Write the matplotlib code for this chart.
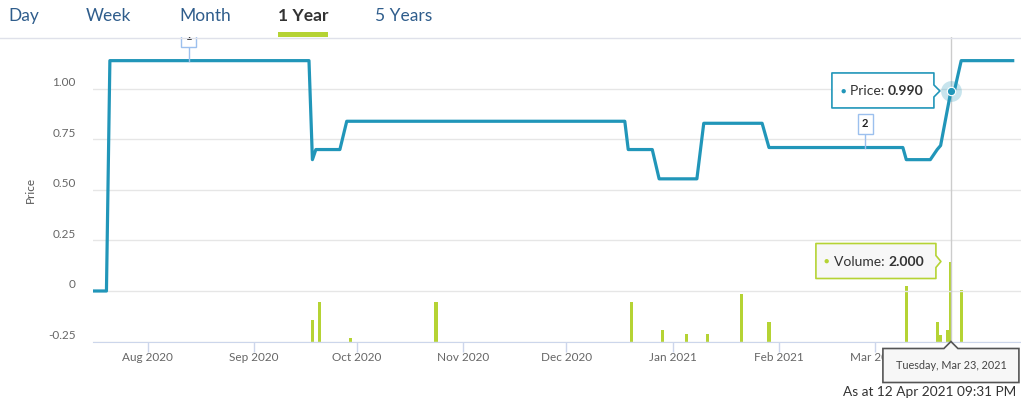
import matplotlib
matplotlib.use('Agg')
import matplotlib.pyplot as plt
import matplotlib.dates as mdates
import matplotlib.transforms as mtransforms
from matplotlib.patches import Polygon, Rectangle
from matplotlib.lines import Line2D
import pandas as pd

plt.rcParams['font.family'] = ['Lato', 'DejaVu Sans']

# ---------------- data ----------------
price_dates = ['2020-07-16', '2020-07-20', '2020-07-21', '2020-09-17', '2020-09-18',
               '2020-09-19', '2020-09-26', '2020-09-28', '2020-12-18', '2020-12-19',
               '2020-12-26', '2020-12-28', '2021-01-08', '2021-01-10', '2021-01-27',
               '2021-01-29', '2021-03-09', '2021-03-10', '2021-03-17', '2021-03-19',
               '2021-03-20', '2021-03-23', '2021-03-24', '2021-03-26', '2021-04-10']
prices = [0.0, 0.0, 1.14, 1.14, 0.65,
          0.70, 0.70, 0.84, 0.84, 0.70,
          0.70, 0.555, 0.555, 0.83, 0.83,
          0.71, 0.71, 0.65, 0.65, 0.70,
          0.72, 0.99, 0.99, 1.14, 1.14]

volume_dates = ['2020-09-18', '2020-09-20', '2020-09-29', '2020-10-24', '2020-12-20',
                '2020-12-29', '2021-01-05', '2021-01-11', '2021-01-21', '2021-01-29',
                '2021-03-10', '2021-03-19', '2021-03-20', '2021-03-22', '2021-03-23',
                '2021-03-26']
volumes = [0.55, 1.0, 0.08, 1.0, 1.0,
           0.3, 0.18, 0.18, 1.2, 0.5,
           1.4, 0.5, 0.17, 0.3, 2.0,
           1.3]

flag_dates = ['2020-08-13', '2021-02-26']
flag_labels = ['1', '2']

tabs = ['Day', 'Week', 'Month', '1 Year', '5 Years']
active_tab = '1 Year'

x_tick_dates = ['2020-08-01', '2020-09-01', '2020-10-01', '2020-11-01', '2020-12-01',
                '2021-01-01', '2021-02-01', '2021-03-01']
y_ticks = [-0.25, 0, 0.25, 0.50, 0.75, 1.00]
y_tick_labels = ['-0.25', '0', '0.25', '0.50', '0.75', '1.00']

hover_date = '2021-03-23'
hover_price = 0.990
hover_volume = 2.000

# ---------------- style ----------------
LINE = '#2196b9'
VOL = '#b5d334'
GRID = '#e6e6e6'
TXT = '#666666'
TAB_BLUE = '#2f5d8c'

W, H = 1021, 400
fig = plt.figure(figsize=(W / 100, H / 100), dpi=100)
fig.patch.set_facecolor('white')

ax_bottom_px, ax_top_px, ax_left_px = 341.5, 37, 93
ax2 = fig.add_axes([ax_left_px / W, (H - ax_bottom_px) / H, (W - ax_left_px) / W,
                    (ax_bottom_px - ax_top_px) / H])
ax = fig.add_axes(ax2.get_position(), sharex=ax2)
ax.set_zorder(ax2.get_zorder() + 1)
ax.patch.set_visible(False)

pdates = pd.to_datetime(price_dates)
vdates = pd.to_datetime(volume_dates)
hdate = pd.Timestamp(hover_date)

# volume bars
ax2.bar(vdates, volumes, width=0.9, color=VOL, align='center', zorder=3)
ax2.set_ylim(0, (ax_bottom_px - ax_top_px) / 40.0)
ax2.axis('off')

# price
ax.set_ylim(-0.25, 1.257)
ax.set_xlim(pd.Timestamp('2020-07-16 02:00'), pd.Timestamp('2021-04-12 10:00'))
for y in y_ticks:
    ax.axhline(y, color=GRID, lw=1, zorder=0)
ax.axvline(hdate, color='#cccccc', lw=1, zorder=1)
ax.plot(pdates, prices, color=LINE, lw=2.3, zorder=4, solid_joinstyle='round')

for s in ax.spines.values():
    s.set_visible(False)
ax.spines['bottom'].set_visible(True)
ax.spines['bottom'].set_color('#ccd6eb')

ax.set_yticks(y_ticks)
ax.set_yticklabels(y_tick_labels)
ax.tick_params(axis='y', length=0, pad=12.5, labelsize=8.5, labelcolor=TXT)
for lab in ax.get_yticklabels():
    lab.set_transform(lab.get_transform() +
                      mtransforms.ScaledTranslation(0, 0.07, fig.dpi_scale_trans))

ax.set_xticks(pd.to_datetime(x_tick_dates))
ax.xaxis.set_major_formatter(mdates.DateFormatter('%b %Y'))
ax.tick_params(axis='x', length=7.2, width=1, color='#ccd6eb', pad=0.5,
               labelsize=8.5, labelcolor=TXT)

fig.text(30 / W, 1 - 190 / H, 'Price', rotation=90, ha='center', va='center',
         fontsize=8.5, color='#555555')

# ---------------- tabs ----------------
tab_x = [8, 86, 179, 278, 375]
for name, x in zip(tabs, tab_x):
    active = name == active_tab
    fig.text(x / W, 1 - 16 / H, name, ha='left', va='center', fontsize=12.5,
             color='#333333' if active else TAB_BLUE,
             fontweight='bold' if active else 'normal')
fig.add_artist(Line2D([0, 1], [1 - 37.5 / H, 1 - 37.5 / H], transform=fig.transFigure,
                      color='#dfe1ea', lw=1))
fig.add_artist(Rectangle((278 / W, 1 - 37 / H), 50 / W, 5 / H, transform=fig.transFigure,
                         color=VOL, lw=0))

fig.canvas.draw()
ID = mtransforms.IdentityTransform()


def disp(d, v, a=ax):
    return a.transData.transform((mdates.date2num(d), v))


# ---------------- flags ----------------
FLAG = '#9cc0ee'
price_series = pd.Series(prices, index=pdates)
for fd, fl in zip(flag_dates, flag_labels):
    d = pd.Timestamp(fd)
    v = float(price_series.reindex(pdates.union([d])).interpolate('time')[d])
    x0, y0 = disp(d, v)
    ax.add_artist(Line2D([x0, x0], [y0, y0 + 14], transform=ID, color=FLAG, lw=1, zorder=5))
    ax.add_patch(Rectangle((x0 - 7.5, y0 + 14), 15, 20, transform=ID, fc='white',
                           ec=FLAG, lw=1, zorder=6))
    ax.text(x0, y0 + 24, fl, transform=ID, ha='center', va='center', fontsize=8,
            fontweight='bold', color='#222222', zorder=7, clip_on=True)

# ---------------- hover marker ----------------
ax.plot([hdate], [hover_price], 'o', ms=15, color=LINE, alpha=0.25, mec='none', zorder=6)
ax.plot([hdate], [hover_price], 'o', ms=6, color=LINE, mec='white', mew=0.8, zorder=7)


def callout(px, py, left, right, top, bottom, tip, ec, fc, lw=1.2):
    # pointer on right side
    pts = [(px + left, py + top), (px + right, py + top), (px + right, py + 6),
           (px + tip, py), (px + right, py - 6), (px + right, py + bottom),
           (px + left, py + bottom)]
    fig.add_artist(Polygon(pts, closed=True, transform=ID, fc=fc, ec=ec, lw=lw,
                           joinstyle='round', zorder=10))


# price tooltip
px, py = disp(hdate, hover_price)
callout(px, py, -119, -17, 18, -17, -11, LINE, (1, 1, 1, 0.92))
fig.text(px - 108, py, '\u25CF', transform=ID, ha='center', va='center',
         fontsize=6.5, color=LINE, zorder=11)
t2 = fig.text(px - 101, py, 'Price: ', transform=ID, ha='left', va='center',
              fontsize=10, color='#333333', zorder=11)
fig.add_artist(plt.Annotation(f'{hover_price:.3f}', xy=(1, 0.5), xycoords=t2,
                              ha='left', va='center', fontsize=10, fontweight='bold',
                              color='#333333', zorder=11))

# volume tooltip
vx, vy = disp(hdate, hover_volume, ax2)
callout(vx, vy, -135, -15, 18, -17, -10, VOL, (0.97, 0.97, 0.97, 0.92))
fig.text(vx - 125, vy, '\u25CF', transform=ID, ha='center', va='center',
         fontsize=6.5, color=VOL, zorder=11)
t3 = fig.text(vx - 117, vy, 'Volume: ', transform=ID, ha='left', va='center',
              fontsize=10, color='#333333', zorder=11)
fig.add_artist(plt.Annotation(f'{hover_volume:.3f}', xy=(1, 0.5), xycoords=t3,
                              ha='left', va='center', fontsize=10, fontweight='bold',
                              color='#333333', zorder=11))

# date tooltip (below axis)
bx, by = disp(hdate, -0.25)
left, right, top_gap, hgt = -68, 68, -7, 34
pts = [(bx + left, by + top_gap), (bx - 7, by + top_gap), (bx, by),
       (bx + 7, by + top_gap), (bx + right, by + top_gap),
       (bx + right, by + top_gap - hgt), (bx + left, by + top_gap - hgt)]
fig.add_artist(Polygon(pts, closed=True, transform=ID, fc='#f7f7f7', ec='#555555',
                       lw=1.2, zorder=10))
fig.text(bx, by + top_gap - hgt / 2, hdate.strftime('%A, %b %d, %Y'), transform=ID,
         ha='center', va='center', fontsize=7.8, color='#444444', zorder=11)

fig.text(1016 / W, 1 - 392 / H, 'As at 12 Apr 2021 09:31 PM', ha='right', va='center',
         fontsize=9.8, color='#333333')

fig.savefig('out.png', dpi=100)
